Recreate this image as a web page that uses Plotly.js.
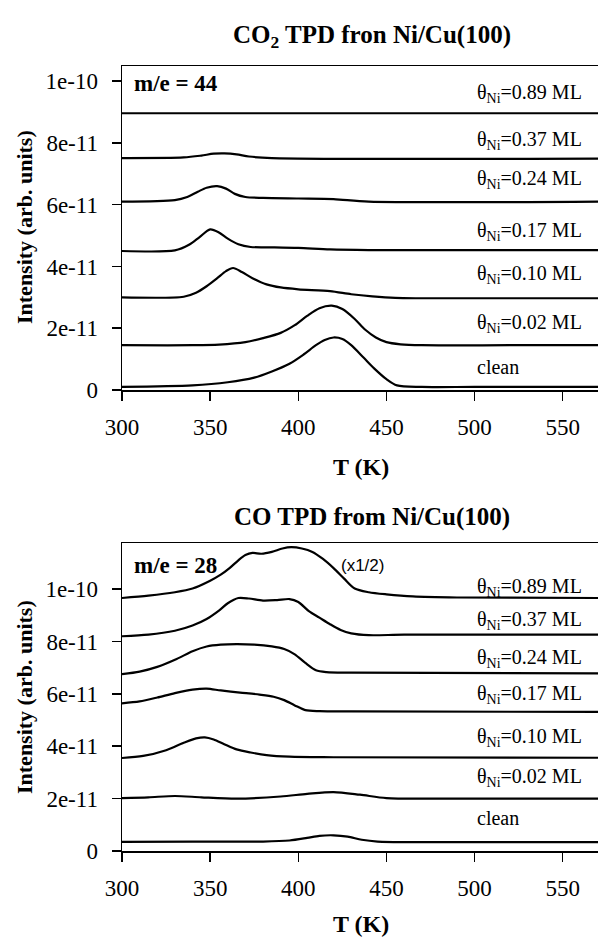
<!DOCTYPE html>
<html>
<head>
<meta charset="utf-8">
<script src="https://cdn.plot.ly/plotly-3.0.1.min.js"></script>
<style>html,body{margin:0;padding:0;background:#fff;}#chart{width:598px;height:937px;}</style>
</head>
<body>
<div id="chart"></div>
<script>
// ---------- DATA (intensity in units of 1e-11) ----------
const seriesNames = ["clean", "0.02", "0.10", "0.17", "0.24", "0.37", "0.89"];

// CO2 (m/e = 44)
const co2_clean_T = [300,340,360,375,385,395,403,410,415,420,425,430,437,443,450,456,470,500,570];
const co2_clean_I = [0.1,0.15,0.25,0.4,0.6,0.85,1.15,1.45,1.62,1.7,1.65,1.45,1.05,0.7,0.35,0.15,0.1,0.1,0.1];
const co2_002_T = [300,340,355,370,380,390,398,405,412,419,425,432,438,444,450,458,470,520,570];
const co2_002_I = [1.45,1.45,1.47,1.55,1.68,1.85,2.1,2.4,2.65,2.73,2.62,2.3,1.95,1.7,1.55,1.48,1.45,1.45,1.45];
const co2_010_T = [300,335,342,348,354,359,363,368,374,382,390,400,418,430,442,455,470,570];
const co2_010_I = [3.0,3.02,3.15,3.36,3.62,3.85,3.95,3.82,3.62,3.42,3.32,3.26,3.2,3.1,3.03,2.98,2.97,2.97];
const co2_017_T = [300,330,338,344,350,355,360,366,373,385,400,418,440,570];
const co2_017_I = [4.5,4.52,4.7,4.95,5.2,5.1,4.9,4.72,4.63,4.62,4.6,4.55,4.53,4.53];
const co2_024_T = [300,330,337,343,348,354,359,364,370,380,400,420,440,570];
const co2_024_I = [6.1,6.15,6.25,6.42,6.55,6.6,6.52,6.35,6.25,6.22,6.2,6.18,6.1,6.1];
const co2_037_T = [300,335,345,352,358,365,372,385,570];
const co2_037_I = [7.51,7.53,7.59,7.65,7.66,7.63,7.56,7.51,7.49];
const co2_089_T = [300,400,500,570];
const co2_089_I = [8.96,8.96,8.96,8.96];

// CO (m/e = 28)
const co_clean_T = [300,340,380,395,405,412,420,428,436,445,470,570];
const co_clean_I = [0.35,0.36,0.36,0.4,0.5,0.58,0.6,0.55,0.43,0.36,0.34,0.34];
const co_002_T = [300,315,330,345,365,390,405,420,435,450,480,570];
const co_002_I = [2.02,2.05,2.1,2.05,2.0,2.08,2.18,2.25,2.15,2.02,2.0,2.0];
const co_010_T = [300,312,325,335,342,347,352,358,365,373,382,395,420,570];
const co_010_I = [3.55,3.63,3.85,4.13,4.3,4.34,4.26,4.08,3.88,3.76,3.66,3.6,3.58,3.56];
const co_017_T = [300,310,320,330,340,348,356,367,378,386,392,398,404,412,430,570];
const co_017_I = [5.64,5.71,5.86,6.03,6.16,6.2,6.13,6.05,5.97,5.89,5.76,5.56,5.38,5.34,5.33,5.31];
const co_024_T = [300,310,320,331,340,348,356,365,375,385,392,398,404,410,416,430,570];
const co_024_I = [6.75,6.85,7.03,7.33,7.63,7.81,7.88,7.9,7.88,7.81,7.71,7.51,7.18,6.9,6.83,6.81,6.78];
const co_037_T = [300,315,330,340,348,355,360,366,372,380,388,395,400,406,412,418,424,430,440,460,570];
const co_037_I = [8.2,8.26,8.41,8.61,8.86,9.18,9.46,9.66,9.64,9.56,9.58,9.62,9.51,9.16,8.91,8.66,8.44,8.31,8.24,8.26,8.26];
const co_089_T = [300,315,330,340,350,356,361,366,370,374,379,385,391,396,402,408,414,420,426,432,440,450,465,490,570];
const co_089_I = [9.66,9.75,9.88,10.02,10.32,10.55,10.8,11.1,11.3,11.38,11.35,11.42,11.55,11.6,11.55,11.42,11.15,10.8,10.4,10.02,9.88,9.8,9.72,9.68,9.66];

const seriesLabels = ["clean","θ<sub>Ni</sub>=0.02 ML","θ<sub>Ni</sub>=0.10 ML","θ<sub>Ni</sub>=0.17 ML","θ<sub>Ni</sub>=0.24 ML","θ<sub>Ni</sub>=0.37 ML","θ<sub>Ni</sub>=0.89 ML"];
const xTicks = [300,350,400,450,500,550];
const yTickVals = [0,2e-11,4e-11,6e-11,8e-11,1e-10];
const yTickText = ["0","2e-11","4e-11","6e-11","8e-11","1e-10"];
const titleTop = "<b>CO<sub>2</sub> TPD fron Ni/Cu(100)</b>";
const titleBottom = "<b>CO TPD from Ni/Cu(100)</b>";
const massTop = "<b>m/e = 44</b>";
const massBottom = "<b>m/e = 28</b>";
const scaleNote = "(x1/2)";

// ---------- BUILD ----------
const UNIT = 1e-11;
const co2 = [[co2_clean_T,co2_clean_I],[co2_002_T,co2_002_I],[co2_010_T,co2_010_I],[co2_017_T,co2_017_I],[co2_024_T,co2_024_I],[co2_037_T,co2_037_I],[co2_089_T,co2_089_I]];
const co = [[co_clean_T,co_clean_I],[co_002_T,co_002_I],[co_010_T,co_010_I],[co_017_T,co_017_I],[co_024_T,co_024_I],[co_037_T,co_037_I],[co_089_T,co_089_I]];

const traces = [];
co2.forEach((s,i) => traces.push({x:s[0], y:s[1].map(v=>v*UNIT), type:'scatter', mode:'lines', name:seriesNames[i],
  line:{color:'#000', width:2.2, shape:'spline', smoothing:0.8}, xaxis:'x', yaxis:'y', hoverinfo:'skip'}));
co.forEach((s,i) => traces.push({x:s[0], y:s[1].map(v=>v*UNIT), type:'scatter', mode:'lines', name:seriesNames[i],
  line:{color:'#000', width:2.2, shape:'spline', smoothing:0.8}, xaxis:'x2', yaxis:'y2', hoverinfo:'skip'}));

const serif = "Liberation Serif, Times New Roman, serif";
const labelPxTop = [20,22,24,19,22,18,20];
const labelPxBot = [24,21,20,17,15,14,11];

const annotations = [];
co2.forEach((s,i) => annotations.push({xref:'x', yref:'y', x:500, y:s[1][s[1].length-1]*UNIT, yshift:labelPxTop[i],
  text:seriesLabels[i], showarrow:false, xanchor:'left', yanchor:'middle', font:{family:serif, size:20, color:'#000'}}));
co.forEach((s,i) => annotations.push({xref:'x2', yref:'y2', x:500, y:s[1][s[1].length-1]*UNIT, yshift:labelPxBot[i],
  text:seriesLabels[i], showarrow:false, xanchor:'left', yanchor:'middle', font:{family:serif, size:20, color:'#000'}}));

annotations.push({xref:'paper', yref:'paper', x:0.525, y:1-37/937, text:titleTop, showarrow:false, xanchor:'center', yanchor:'middle', font:{family:serif, size:25, color:'#000'}});
annotations.push({xref:'paper', yref:'paper', x:0.525, y:1-517/937, text:titleBottom, showarrow:false, xanchor:'center', yanchor:'middle', font:{family:serif, size:25, color:'#000'}});
annotations.push({xref:'paper', yref:'paper', x:(361-122)/476, y:1-467/937, text:"<b>T (K)</b>", showarrow:false, xanchor:'center', yanchor:'middle', font:{family:serif, size:24, color:'#000'}});
annotations.push({xref:'paper', yref:'paper', x:(361-122)/476, y:1-924/937, text:"<b>T (K)</b>", showarrow:false, xanchor:'center', yanchor:'middle', font:{family:serif, size:24, color:'#000'}});
annotations.push({xref:'paper', yref:'paper', x:(24-122)/476, y:1-227/937, text:"<b>Intensity (arb. units)</b>", textangle:-90, showarrow:false, xanchor:'center', yanchor:'middle', font:{family:serif, size:22, color:'#000'}});
annotations.push({xref:'paper', yref:'paper', x:(24-122)/476, y:1-697/937, text:"<b>Intensity (arb. units)</b>", textangle:-90, showarrow:false, xanchor:'center', yanchor:'middle', font:{family:serif, size:22, color:'#000'}});
annotations.push({xref:'x', yref:'paper', x:305.5, y:1-84/937, text:massTop, showarrow:false, xanchor:'left', yanchor:'middle', font:{family:serif, size:23, color:'#000'}});
annotations.push({xref:'x2', yref:'paper', x:305.5, y:1-565/937, text:massBottom, showarrow:false, xanchor:'left', yanchor:'middle', font:{family:serif, size:23, color:'#000'}});
annotations.push({xref:'x2', yref:'paper', x:423, y:1-565/937, text:scaleNote, showarrow:false, xanchor:'left', yanchor:'middle', font:{family:"Liberation Sans, Arial, sans-serif", size:17, color:'#000'}});

function xax(anchor){ return {anchor:anchor, range:[300,570], tickvals:xTicks, ticks:'outside', ticklen:9, tickwidth:1.5, tickcolor:'#000',
  showline:true, linecolor:'#000', linewidth:1.5, mirror:true, showgrid:false, zeroline:false,
  tickfont:{family:serif, size:23, color:'#000'}, ticklabelstandoff:7}; }
function yax(anchor, domain, top){ return {anchor:anchor, domain:domain, range:[0, top], tickvals:yTickVals, ticktext:yTickText,
  ticks:'outside', ticklen:9, tickwidth:1.5, tickcolor:'#000', showline:true, linecolor:'#000', linewidth:1.5, showgrid:false, zeroline:false,
  tickfont:{family:serif, size:23, color:'#000'}, ticklabelstandoff:9}; }

const layout = {
  width:598, height:937, margin:{l:122, r:0, t:0, b:0}, showlegend:false,
  paper_bgcolor:'#fff', plot_bgcolor:'#fff',
  xaxis: xax('y'),
  yaxis: yax('x', [1-390/937, 1-66/937], 10.49e-11),
  xaxis2: xax('y2'),
  yaxis2: yax('x2', [1-851/937, 1-543/937], 11.76e-11),
  annotations: annotations
};
Plotly.newPlot('chart', traces, layout, {displayModeBar:false, staticPlot:true});
</script>
</body>
</html>
